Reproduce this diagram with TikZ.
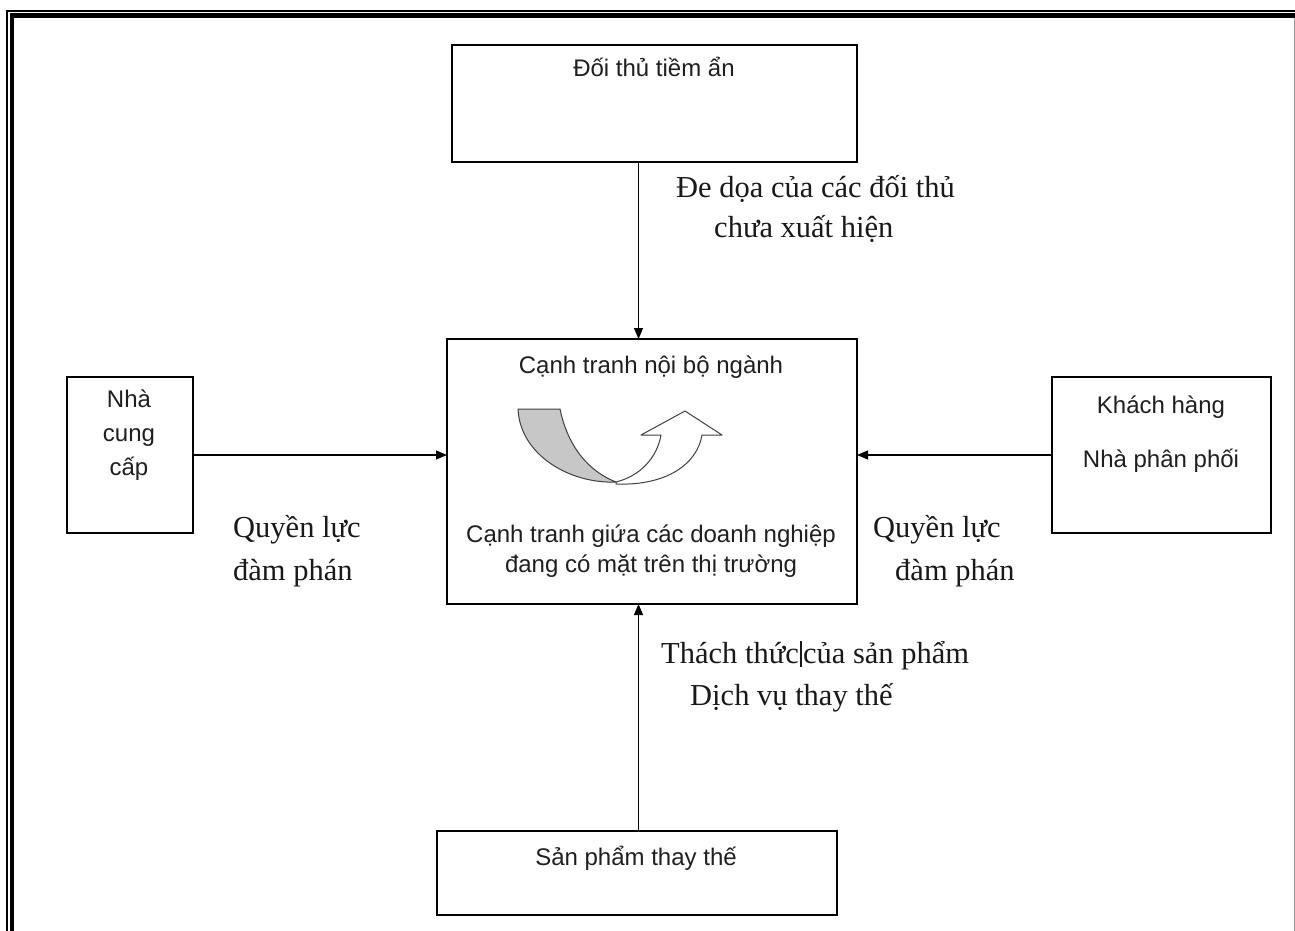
\documentclass[tikz,border=0pt]{standalone}
\usepackage{fontspec}
\setmainfont{Liberation Serif}
\newfontfamily\arialf{Liberation Sans}
\usetikzlibrary{arrows.meta}
\begin{document}
\begin{tikzpicture}[x=1pt,y=-1pt,
  box/.style={draw=black,line width=1.4pt,inner sep=0pt,outer sep=0pt,fill=white},
  stxt/.style={font=\arialf\fontsize{24}{28}\selectfont,inner sep=0pt,text=black!88,anchor=base},
  rtxt/.style={font=\fontsize{30.5}{36}\selectfont,inner sep=0pt,text=black!90,anchor=base west},
  conn/.style={draw=black,line width=1.1pt,-{Triangle[length=11pt,width=9pt]}},
  curv/.style={draw=black!75,line width=1pt,line join=round}]
\useasboundingbox (0,0) rectangle (1295,931);
\fill[white] (0,0) rectangle (1295,931);
% page frame
\draw[line width=2pt] (7,931) -- (7,11) -- (1295,11);
\draw[line width=4.5pt] (12,931) -- (12,15.5) -- (1295,15.5);
\draw[black!40,line width=1pt] (1294,18) -- (1294,931);
% boxes
\node[box,minimum width=405pt,minimum height=117pt] (top) at (654.5,103.5) {};
\node[box,minimum width=410pt,minimum height=265pt] (main) at (652,471.5) {};
\node[box,minimum width=126pt,minimum height=156pt] (left) at (130,455) {};
\node[box,minimum width=219pt,minimum height=156pt] (right) at (1161.5,455) {};
\node[box,minimum width=400pt,minimum height=84pt] (bot) at (637,873) {};
\coordinate (vx) at (638.5,0);
% connectors
\draw[conn] (top.south -| vx) -- (main.north -| vx);
\draw[conn] (bot.north -| vx) -- (main.south -| vx);
\draw[conn] (left.east) -- (main.west |- left.east);
\draw[conn] (right.west) -- (main.east |- right.west);
% box texts
\node[stxt] (ttop) at (654,77) {Đối thủ tiềm ẩn};
\node[stxt] (tmain1) at (651,373) {Cạnh tranh nội bộ ngành};
\node[stxt] (tmain2) at (651,542) {Cạnh tranh giứa các doanh nghiệp};
\node[stxt] (tmain3) at (651,572) {đang có mặt trên thị trường};
\node[stxt] (tl1) at (129,407) {Nhà};
\node[stxt] (tl2) at (129,441) {cung};
\node[stxt] (tl3) at (129,475) {cấp};
\node[stxt] (tr1) at (1161,413) {Khách hàng};
\node[stxt] (tr2) at (1161,467) {Nhà phân phối};
\node[stxt] (tbot) at (636,865) {Sản phẩm thay thế};
% curved arrow symbol
\filldraw[curv,fill=black!22] (518,409) -- (560,409)
  .. controls (568,448) and (590,472) .. (616,482)
  .. controls (570,484) and (520,455) .. (518,409) -- cycle;
\filldraw[curv,fill=white] (616,482)
  .. controls (640,476) and (657,458) .. (661,435)
  -- (641,435) -- (685,411) -- (722,435) -- (702,435)
  .. controls (697,465) and (665,486) .. (616,484) -- cycle;
% serif labels
\node[rtxt] (lab1) at (676,197) {Đe dọa của các đối thủ};
\node[rtxt] (lab2) at (714,237) {chưa xuất hiện};
\node[rtxt] (lab3) at (661,663) {Thách thức\hspace{0.03em}\rule[-0.12em]{0.08em}{0.85em}\hspace{0.03em}của sản phẩm};
\node[rtxt] (lab4) at (690,705) {Dịch vụ thay thế};
\node[rtxt] (lab5) at (233,537) {Quyền lực};
\node[rtxt] (lab6) at (233,580) {đàm phán};
\node[rtxt] (lab7) at (873,537) {Quyền lực};
\node[rtxt] (lab8) at (895,580) {đàm phán};
\end{tikzpicture}
\end{document}
